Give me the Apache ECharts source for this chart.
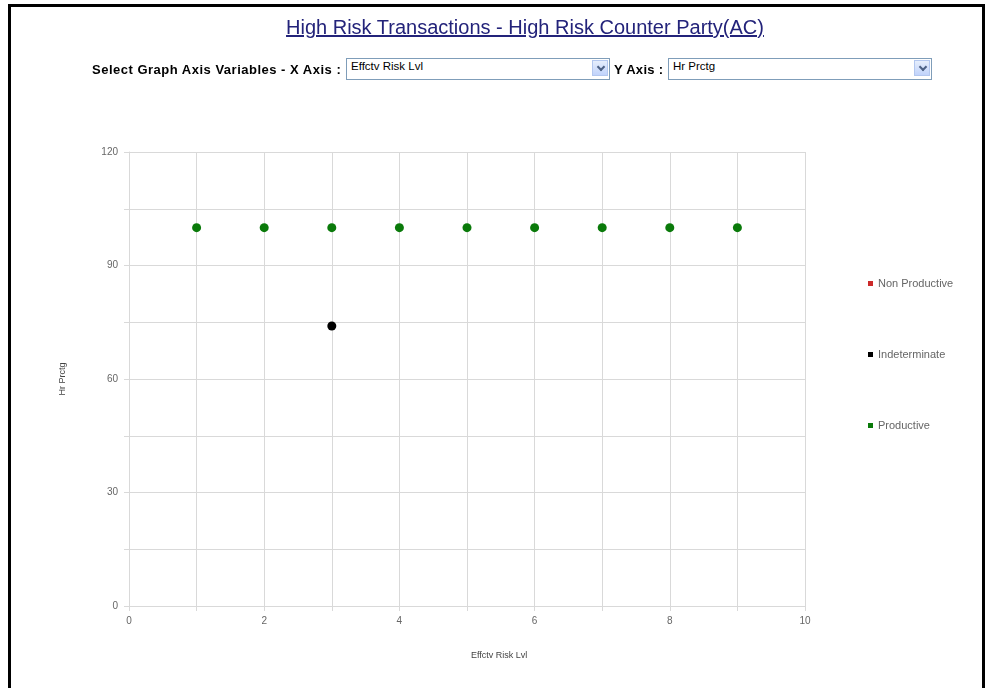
<!DOCTYPE html>
<html>
<head>
<meta charset="utf-8">
<script src="https://cdn.jsdelivr.net/npm/echarts@6/dist/echarts.min.js"></script>
<style>
body { margin: 0; background: #fff; font-family: Arial, "Liberation Sans", sans-serif; }
.frame {
    position: absolute; left: 8px; top: 4px; width: 971px; height: 700px;
    border: 3px solid #000; border-bottom: none;
}
#chart { position: absolute; left: 0; top: 0; width: 985px; height: 688px; }
.title {
    position: absolute; left: 0; width: 1050px; top: 16px; text-align: center;
    font-size: 20px; color: #23237a; text-decoration: underline;
}
.lbl { position: absolute; top: 62px; font-size: 13px; font-weight: bold; color: #000; letter-spacing: 0.5px; }
.sel {
    position: absolute; top: 58px; height: 20px; width: 258px;
    border: 1px solid #7f9db9; background: #fff; font-size: 11.5px; line-height: 14px;
    padding-left: 4px; box-sizing: content-box;
}
.sel .arr {
    position: absolute; right: 1px; top: 1px; width: 16px; height: 16px;
    background: linear-gradient(#e6eefc, #c1d3fb); border: 1px solid #b3c7ef; box-sizing: border-box;
}
.sel .arr:after {
    content: ""; position: absolute; left: 5px; top: 3px; width: 4px; height: 4px;
    border-right: 2px solid #4d6185; border-bottom: 2px solid #4d6185; transform: rotate(45deg);
}
</style>
</head>
<body>
<div class="frame"></div>
<div id="chart"></div>
<div class="title">High Risk Transactions - High Risk Counter Party(AC)</div>
<div class="lbl" style="left:92px">Select Graph Axis Variables - X Axis :</div>
<div class="sel" style="left:346px">Effctv Risk Lvl<div class="arr"></div></div>
<div class="lbl" style="left:614px; letter-spacing:0.3px">Y Axis :</div>
<div class="sel" style="left:668px">Hr Prctg<div class="arr"></div></div>
<script>
// 图例分类
const categories = ['Non Productive', 'Indeterminate', 'Productive'];
const colors = ['#cc2a2a', '#000000', '#0a7a0a'];

// 各分类的点 (x: Effctv Risk Lvl, y: Hr Prctg)
const nonProductiveX = [];
const nonProductiveY = [];
const indeterminateX = [3];
const indeterminateY = [74];
const productiveX = [1, 2, 3, 4, 5, 6, 7, 8, 9];
const productiveY = [100, 100, 100, 100, 100, 100, 100, 100, 100];

function pairs(xs, ys) {
    let out = [];
    for (let i = 0; i < xs.length; i++) {
        out[i] = [xs[i], ys[i]];
    }
    return out;
}

const seriesData = [
    pairs(nonProductiveX, nonProductiveY),
    pairs(indeterminateX, indeterminateY),
    pairs(productiveX, productiveY)
];

let chart = echarts.init(document.getElementById('chart'));

const gray = '#d9d9d9';
const labelStyle = { color: '#666', fontSize: 10, fontFamily: 'Arial' };

chart.setOption({
    animation: false,
    color: colors,
    grid: { left: 129, right: 180, top: 152, bottom: 82 },
    legend: {
        orient: 'vertical',
        left: 863,
        top: 273,
        icon: 'rect',
        itemWidth: 5,
        itemHeight: 5,
        itemGap: 60,
        textStyle: { color: '#666', fontSize: 11, fontFamily: 'Arial' },
        data: categories
    },
    xAxis: {
        type: 'value',
        min: 0, max: 10, interval: 1,
        name: 'Effctv Risk Lvl',
        nameLocation: 'middle',
        nameGap: 45,
        nameTextStyle: { color: '#444', fontSize: 9, fontFamily: 'Arial', align: 'left', padding: [0, 0, 0, 4] },
        axisLine: { lineStyle: { color: gray } },
        axisTick: { show: true, length: 5, lineStyle: { color: gray } },
        axisLabel: Object.assign({ margin: 10, formatter: v => (v % 2 === 0 ? v : '') }, labelStyle),
        splitLine: { show: true, lineStyle: { color: gray } }
    },
    yAxis: {
        type: 'value',
        min: 0, max: 120, interval: 15,
        name: 'Hr Prctg',
        nameLocation: 'middle',
        nameGap: 62,
        nameTextStyle: { color: '#444', fontSize: 9, fontFamily: 'Arial' },
        axisLine: { show: true, lineStyle: { color: gray } },
        axisTick: { show: true, length: 5, lineStyle: { color: gray } },
        axisLabel: Object.assign({ margin: 11, formatter: v => (v % 30 === 0 ? v : '') }, labelStyle),
        splitLine: { show: true, lineStyle: { color: gray } }
    },
    series: categories.map((name, i) => ({
        name: name,
        type: 'scatter',
        symbol: 'circle',
        symbolSize: 9,
        itemStyle: { opacity: 1 },
        data: seriesData[i]
    }))
});
</script>
</body>
</html>
